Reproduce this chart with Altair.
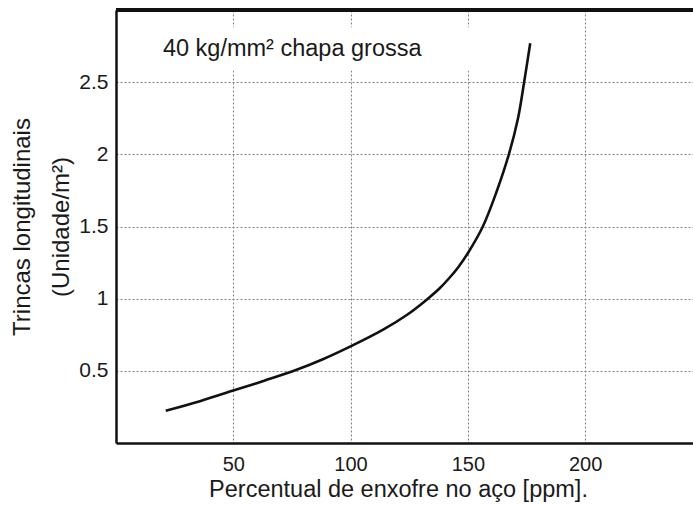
import altair as alt
import pandas as pd

# --- data ---
sulfur_ppm = [21.2, 35.8, 50, 63.5, 77, 88.2, 100, 113.9, 123.8, 132.6,
              138, 142.2, 146, 150, 156.4, 162.1, 167.5, 171.4, 174.0, 176.6]
cracks = [0.224, 0.29, 0.363, 0.433, 0.507, 0.58, 0.669, 0.785, 0.885, 0.995,
          1.072, 1.145, 1.22, 1.315, 1.5, 1.734, 2.0, 2.25, 2.5, 2.77]
x_ticks = [50, 100, 150, 200]
y_ticks = [0.5, 1, 1.5, 2, 2.5]
x_title = "Percentual de enxofre no aço [ppm]."
y_title = ["Trincas longitudinais", "(Unidade/m²)"]
note_text = ["40 kg/mm² chapa grossa"]
note_x = [20]
note_y = [2.68]

W, H = 577, 433
FONT = "Liberation Sans"
INK = "#1a1a1a"

curve = pd.DataFrame({"s": sulfur_ppm, "c": cracks})
note = pd.DataFrame({"s": note_x, "c": note_y, "t": note_text})
note_box = pd.DataFrame({"s": [15], "s2": [170], "c": [2.58], "c2": [2.88]})

xscale = alt.Scale(domain=[0, 246], nice=False, zero=False)
yscale = alt.Scale(domain=[0, 3], nice=False, zero=False)

xaxis = alt.Axis(values=x_ticks, title=x_title, grid=True, ticks=False,
                 labelPadding=11, titleX=282, titleY=53,
                 titleBaseline="alphabetic", titleAlign="center",
                 titleFontSize=23.5)
yaxis = alt.Axis(values=y_ticks, title=y_title, grid=True, ticks=False,
                 format="~g", labelPadding=8, labelFontSize=21,
                 titleAngle=270, titleX=-87, titleY=H / 2,
                 titleBaseline="alphabetic", titleAlign="center",
                 titleLineHeight=39, titleFontSize=24)


def X(field):
    return alt.X(field, type="quantitative", scale=xscale, axis=xaxis)


def Y(field):
    return alt.Y(field, type="quantitative", scale=yscale, axis=yaxis)


box = alt.Chart(note_box).mark_rect(fill="white", stroke=None).encode(
    x=X("s"), x2="s2", y=Y("c"), y2="c2"
)

line = alt.Chart(curve).mark_line(
    color="#111111", strokeWidth=2.6, interpolate="catmull-rom"
).encode(x=X("s"), y=Y("c"))

label = alt.Chart(note).mark_text(
    align="left", baseline="alphabetic", font=FONT, fontSize=23.5, color=INK
).encode(x=X("s"), y=Y("c"), text="t:N")

top_frame = alt.Chart(curve).mark_rule(color="#111111", strokeWidth=2.5).encode(
    y=alt.Y(datum=3, type="quantitative", scale=yscale, axis=yaxis),
    x=alt.value(0), x2=alt.value(W)
)

chart = (
    alt.layer(box, line, label, top_frame)
    .properties(
        width=W, height=H,
        autosize=alt.AutoSizeParams(type="none"),
        padding={"left": 116, "top": 10, "right": 0, "bottom": 63},
        background="white",
    )
    .configure_view(stroke=None)
    .configure_axis(
        domainColor="#111111", domainWidth=2.5,
        gridColor="#808080", gridDash=[2, 2], gridWidth=1,
        labelFont=FONT, labelFontSize=20, labelColor=INK,
        titleFont=FONT, titleFontWeight="normal",
        titleColor=INK,
    )
)

chart.save("out.html", embed_options={"renderer": "svg", "actions": False})
